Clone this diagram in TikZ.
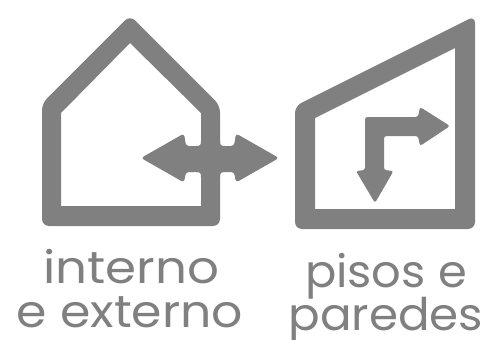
\documentclass[tikz,border=0pt]{standalone}
\usepackage{fontspec}
\setmainfont{Poppins}
\definecolor{icongray}{RGB}{128,128,128}
\tikzset{
  x=1pt,y=-1pt,
  iconfill/.style={fill=icongray,draw=none},
  label/.style={text=icongray,inner sep=0pt,anchor=base,font=\fontsize{45}{45}\selectfont}
}
\begin{document}
\begin{tikzpicture}
\useasboundingbox (0,0) rectangle (488,340);
% left house
\fill[icongray,even odd rule]
  [rounded corners=7pt] (130,15.4) -- (220,105.4) -- (220,226) -- (42,226) -- (42,103.4) -- cycle
  [sharp corners] (130,43) -- (201,113) -- (201,206) -- (61,206) -- (61,113) -- cycle;
% double arrow
\fill[iconfill,rounded corners=3pt] (141,158) -- (184,133.5) -- (186,146) -- (234,146) -- (236,133.5) -- (279,158) -- (236,182.5) -- (234,172) -- (186,172) -- (184,182.5) -- cycle;
% fillets
\fill[iconfill] (196,146) .. controls (200,146) and (201,145) .. (201,141) -- (203,146) -- cycle;
\fill[iconfill] (196,172) .. controls (200,172) and (201,173) .. (201,177) -- (203,172) -- cycle;
\fill[iconfill] (225,146) .. controls (221,146) and (220,145) .. (220,141) -- (218,146) -- cycle;
\fill[iconfill] (225,172) .. controls (221,172) and (220,173) .. (220,177) -- (218,172) -- cycle;
% right house
\fill[icongray,even odd rule]
  [rounded corners=7pt] (475,16) -- (475,229) -- (295,229) -- (295,106) -- cycle
  [sharp corners] (455,48) -- (455,209) -- (315,209) -- (315,118) -- cycle;
% bent arrow
\fill[iconfill,rounded corners=2.5pt] (365,117) -- (418,117) -- (420,107) -- (450,126) -- (420,146) -- (418,136) -- (384,136) -- (384,170) -- (393.5,171) -- (375,203) -- (356,171) -- (365,170) -- cycle;
% labels
\node[label] (a) at (131,283) {\scalebox{1.11}[1]{interno}};
\node[label] (b) at (130,327) {\scalebox{1.087}[1]{e externo}};
\node[label] (c) at (386,287) {\scalebox{1.03}[1]{pisos e}};
\node[label] (d) at (386,330) {\scalebox{1.04}[1]{paredes}};
\end{tikzpicture}
\end{document}
